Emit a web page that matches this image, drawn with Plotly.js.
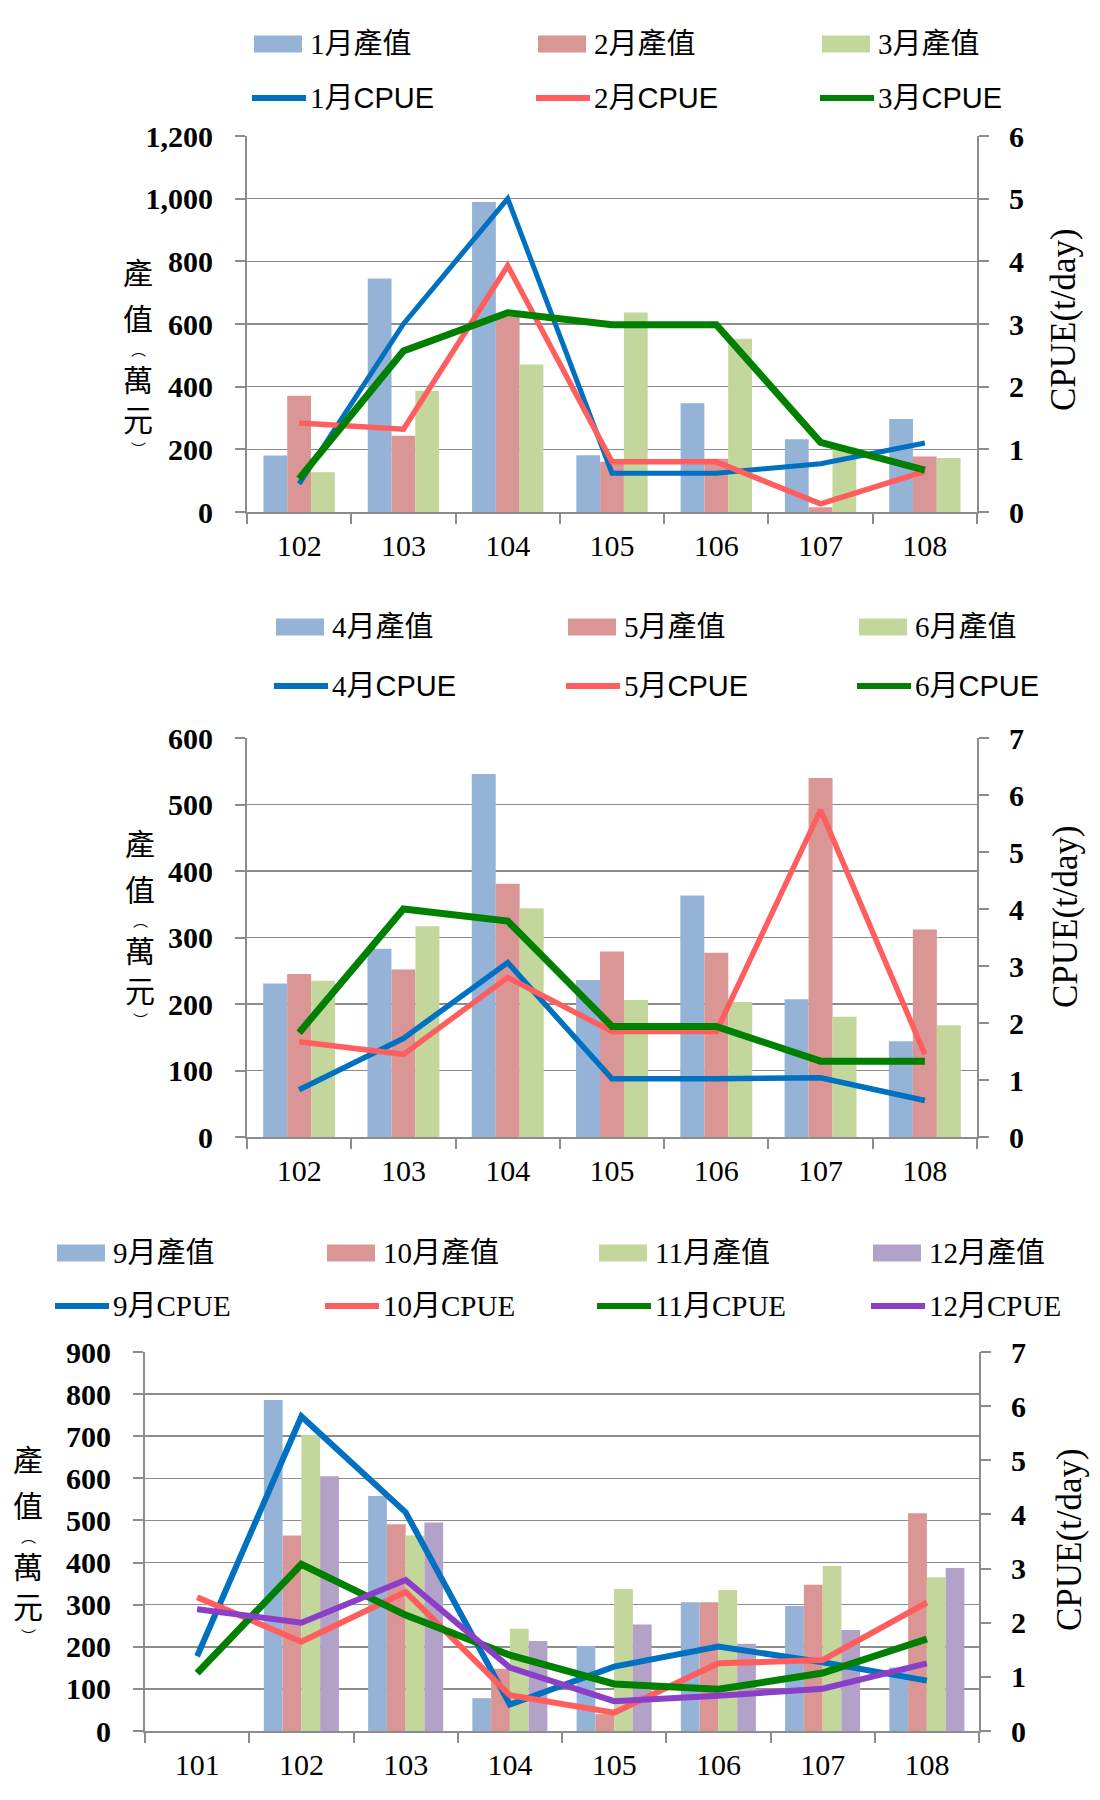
<!DOCTYPE html>
<html><head><meta charset="utf-8">
<script src="https://cdn.plot.ly/plotly-3.0.1.min.js"></script>
<style>body{margin:0;background:#fff;} .c{position:absolute;left:0;width:1100px;}</style>
</head><body>
<div id="c1" class="c" style="top:0;height:580px"></div>
<div id="c2" class="c" style="top:580px;height:620px"></div>
<div id="c3" class="c" style="top:1200px;height:600px"></div>
<script>
// ---------- DATA ----------
const years1 = ['102','103','104','105','106','107','108'];
const jan_val = [180, 745, 989, 181, 347, 232, 297];
const feb_val = [371, 243, 624, 160, 170, 15, 177];
const mar_val = [127, 386, 471, 637, 553, 206, 172];
const jan_cpue = [0.45, 3.0, 5.0, 0.62, 0.62, 0.77, 1.10];
const feb_cpue = [1.42, 1.32, 3.93, 0.80, 0.80, 0.13, 0.65];
const mar_cpue = [0.53, 2.57, 3.18, 2.99, 2.99, 1.11, 0.67];

const years2 = ['102','103','104','105','106','107','108'];
const apr_val = [231, 283, 546, 236, 363, 207, 144];
const may_val = [245, 252, 381, 279, 277, 540, 312];
const jun_val = [235, 317, 344, 206, 203, 181, 168];
const apr_cpue = [0.83, 1.73, 3.06, 1.02, 1.02, 1.04, 0.64];
const may_cpue = [1.67, 1.45, 2.80, 1.85, 1.85, 5.74, 1.45];
const jun_cpue = [1.83, 4.00, 3.79, 1.94, 1.94, 1.33, 1.33];

const years3 = ['101','102','103','104','105','106','107','108'];
const sep_val = [null, 786, 558, 78, 202, 306, 297, 151];
const oct_val = [null, 464, 491, 148, 40, 306, 347, 517];
const nov_val = [null, 703, 464, 243, 337, 335, 392, 365];
const dec_val = [null, 605, 495, 214, 253, 207, 240, 387];
const sep_cpue = [1.38, 5.81, 4.04, 0.49, 1.19, 1.56, 1.27, 0.93];
const oct_cpue = [2.47, 1.65, 2.57, 0.66, 0.34, 1.25, 1.31, 2.37];
const nov_cpue = [1.07, 3.08, 2.14, 1.40, 0.87, 0.77, 1.07, 1.70];
const dec_cpue = [2.25, 2.00, 2.79, 1.17, 0.55, 0.65, 0.78, 1.25];

const names1 = ['1月產值','2月產值','3月產值'];
const lnames1 = ['1月CPUE','2月CPUE','3月CPUE'];
const names2 = ['4月產值','5月產值','6月產值'];
const lnames2 = ['4月CPUE','5月CPUE','6月CPUE'];
const names3 = ['9月產值','10月產值','11月產值','12月產值'];
const lnames3 = ['9月CPUE','10月CPUE','11月CPUE','12月CPUE'];
const yTitleLeft = '產值(萬元)';
const yTitleRight = 'CPUE(t/day)';

// ---------- STYLE ----------
const barColors = ['#95B3D7','#D99694','#C3D69B','#B3A2C7'];
const lineColors = ['#0070C0','#FF5E5E','#008000','#8B3FC8'];
const fontSerif = "'Liberation Serif', 'Times New Roman', serif";
const fontCJK = "'Liberation Serif', 'Noto Sans CJK TC', serif";
const gridC = '#8c8c8c';

function makeChart(divId, cfg, cats, bars, lines, bnames, lnames) {
  const W = 1100;
  const pw = cfg.x1 - cfg.x0, ph = cfg.y1 - cfg.y0;
  const P = (px, py) => ({x: (px - cfg.x0) / pw, y: (cfg.y1 - py) / ph});
  const traces = [];
  bars.forEach((v, i) => traces.push({type:'bar', x:cats, y:v, name:bnames[i],
    marker:{color:barColors[i], line:{width:0}}, yaxis:'y', showlegend:false}));
  lines.forEach((v, i) => traces.push({type:'scatter', mode:'lines', x:cats, y:v, name:lnames[i],
    line:{color:lineColors[i], width:cfg.lw[i]}, yaxis:'y2', showlegend:false}));

  const shapes = [], annotations = [];
  bnames.forEach((n, i) => {
    const sx = cfg.legX[i];
    const a = P(sx, cfg.legY[0] - 8.5), b = P(sx + 48, cfg.legY[0] + 8.5);
    shapes.push({type:'rect', xref:'paper', yref:'paper', x0:a.x, y0:a.y, x1:b.x, y1:b.y,
      fillcolor:barColors[i], line:{width:0}});
    const t = P(sx + 54, cfg.legY[0]);
    annotations.push({xref:'paper', yref:'paper', x:t.x, y:t.y, xanchor:'left', yanchor:'middle',
      showarrow:false, text:n, font:{family:fontCJK, size:29, color:'#000'}});
  });
  lnames.forEach((n, i) => {
    const sx = cfg.legX[i];
    const a = P(sx - 2, cfg.legY[1]), b = P(sx + 52, cfg.legY[1]);
    shapes.push({type:'line', xref:'paper', yref:'paper', x0:a.x, y0:a.y, x1:b.x, y1:b.y,
      line:{color:lineColors[i], width:6}});
    const t = P(sx + 54, cfg.legY[1]);
    const txt = cfg.sansCPUE ? n.replace('CPUE', "<span style='font-family:Liberation Sans, Arial, sans-serif'>CPUE</span>") : n;
    annotations.push({xref:'paper', yref:'paper', x:t.x, y:t.y, xanchor:'left', yanchor:'middle',
      showarrow:false, text:txt, font:{family:fontCJK, size:29, color:'#000'}});
  });
  // vertical left title, stacked characters
  const chars = Array.from(yTitleLeft).map(c => c === '(' ? '︵' : (c === ')' ? '︶' : c));
  const offs = [0, 46, 77, 107, 147, 177];
  const sizes = [30, 30, 15, 30, 30, 15];
  chars.forEach((c, i) => {
    const t = P(cfg.ltX, cfg.ltY + offs[i]);
    annotations.push({xref:'paper', yref:'paper', x:t.x, y:t.y, xanchor:'center', yanchor:'middle',
      showarrow:false, text:c, font:{family:fontCJK, size:sizes[i], color:'#000'}});
  });
  const rt = P(cfg.rtX, cfg.rtY);
  annotations.push({xref:'paper', yref:'paper', x:rt.x, y:rt.y, xanchor:'center', yanchor:'middle',
    showarrow:false, text:yTitleRight, textangle:-90, font:{family:fontSerif, size:cfg.rtSize, color:'#000'}});

  const layout = {
    width: W, height: cfg.h,
    margin: {l: cfg.x0, r: W - cfg.x1, t: cfg.y0 - cfg.top, b: cfg.top + cfg.h - cfg.y1, pad: 0},
    paper_bgcolor:'#fff', plot_bgcolor:'#fff', showlegend:false,
    barmode:'group', bargap:cfg.bargap, bargroupgap:0,
    xaxis: {type:'category', showline:true, linecolor:gridC, linewidth:2, ticks:'outside', tickson:'boundaries',
      ticklen:10, tickwidth:2, tickcolor:gridC, showgrid:false, zeroline:false,
      tickfont:{family:fontSerif, size:30, color:'#000'}, ticklabelstandoff:6},
    yaxis: {range:[0, cfg.y1max], dtick:cfg.y1dtick, tick0:0, showline:true, linecolor:gridC, linewidth:2,
      ticks:'outside', ticklen:10, tickwidth:2, tickcolor:gridC, showgrid:true, gridcolor:gridC, gridwidth:1.5,
      zeroline:false, separatethousands:true, ticklabelstandoff:16,
      tickfont:{family:fontSerif, size:30, color:'#000', weight:'bold'}},
    yaxis2: {overlaying:'y', side:'right', range:[0, cfg.y2max], dtick:1, tick0:0, showline:true, linecolor:gridC,
      linewidth:2, ticks:'outside', ticklen:10, tickwidth:2, tickcolor:gridC, showgrid:false, zeroline:false,
      ticklabelstandoff:14, tickfont:{family:fontSerif, size:30, color:'#000', weight:'bold'}},
    shapes: shapes, annotations: annotations
  };
  Plotly.newPlot(divId, traces, layout, {staticPlot:true, displayModeBar:false});
}

makeChart('c1', {top:0, h:580, x0:247, x1:977, y0:136, y1:512, y1max:1200, y1dtick:200, y2max:6,
  bargap:0.316, lw:[5,5.5,7], legX:[254,538,822], legY:[44,98], sansCPUE:true,
  ltX:138, ltY:273, rtX:1063, rtY:320, rtSize:35},
  years1, [jan_val, feb_val, mar_val], [jan_cpue, feb_cpue, mar_cpue], names1, lnames1);

makeChart('c2', {top:580, h:620, x0:247, x1:977, y0:738, y1:1137, y1max:600, y1dtick:100, y2max:7,
  bargap:0.31, lw:[5.5,5.5,7], legX:[276,568,859], legY:[627,686], sansCPUE:true,
  ltX:140, ltY:844, rtX:1065, rtY:917, rtSize:35},
  years2, [apr_val, may_val, jun_val], [apr_cpue, may_cpue, jun_cpue], names2, lnames2);

makeChart('c3', {top:1200, h:600, x0:145, x1:979, y0:1352, y1:1731, y1max:900, y1dtick:100, y2max:7,
  bargap:0.28, lw:[6,6,7,6], legX:[57,327,599,873], legY:[1253,1306], sansCPUE:false,
  ltX:28, ltY:1460, rtX:1069, rtY:1540, rtSize:35},
  years3, [sep_val, oct_val, nov_val, dec_val], [sep_cpue, oct_cpue, nov_cpue, dec_cpue], names3, lnames3);
</script>
</body></html>
